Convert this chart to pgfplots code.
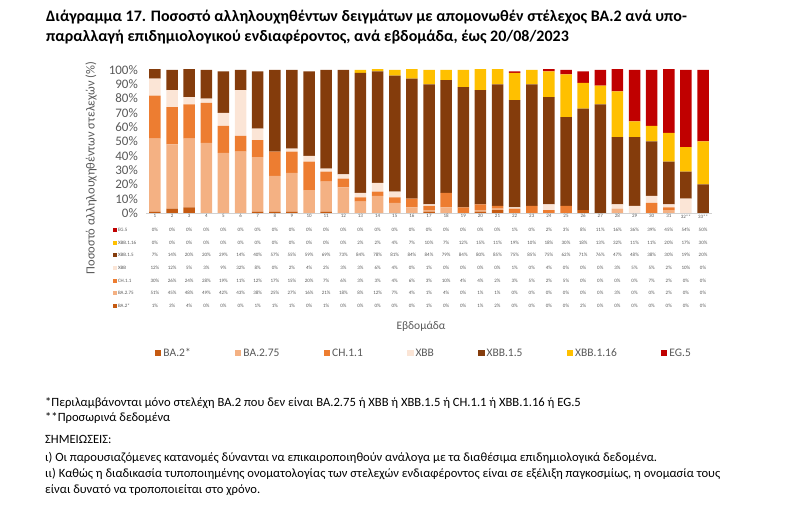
\documentclass[border=0pt]{standalone}
\usepackage{pgfplots}
\pgfplotsset{compat=1.18}
\usepackage{pgfplotstable}
\usepackage{fontspec}
\setmainfont{Carlito}
\definecolor{cBAt}{HTML}{C55A11}
\definecolor{cBAs}{HTML}{F4B183}
\definecolor{cCH}{HTML}{ED7D31}
\definecolor{cXBB}{HTML}{FBE5D6}
\definecolor{cXBBf}{HTML}{843C0C}
\definecolor{cXBBs}{HTML}{FFC000}
\definecolor{cEG}{HTML}{C00000}
\definecolor{tgray}{HTML}{595959}
\pgfplotstableread{
week ba2 ba275 ch11 xbb xbb15 xbb116 eg5
1 1 51 30 12 7 0 0
2 3 45 26 12 14 0 0
3 4 48 24 5 20 0 0
4 0 49 28 3 20 0 0
5 0 42 19 9 29 0 0
6 0 43 11 32 14 0 0
7 1 38 12 8 40 0 0
8 1 25 17 0 57 0 0
9 1 27 15 2 55 0 0
10 0 16 20 4 59 0 0
11 1 21 7 2 69 0 0
12 0 18 6 3 73 0 0
13 0 8 3 3 84 2 0
14 0 12 3 6 78 2 0
15 0 7 4 4 81 4 0
16 0 4 6 0 84 7 0
17 1 1 3 1 84 10 0
18 0 4 10 0 79 7 0
19 0 0 4 0 84 12 0
20 1 1 4 0 80 15 0
21 2 1 2 0 85 11 0
22 0 0 3 1 75 19 1
23 0 0 5 0 85 10 0
24 0 0 2 4 75 18 2
25 0 0 5 0 62 30 3
26 2 0 0 0 71 18 8
27 0 0 0 0 76 13 11
28 0 3 0 3 47 32 16
29 0 0 0 5 48 11 36
30 0 0 7 5 38 11 39
31 0 2 2 2 30 20 45
32 0 0 0 10 19 17 54
33 0 0 0 0 20 30 50
}\data
\begin{document}
\begin{tikzpicture}[x=1pt,y=1pt]
\path (0pt,0pt) rectangle (800pt,511pt);
% title
\node[anchor=base west, inner sep=0, font=\fontsize{16}{16}\selectfont\bfseries] at (46pt,489pt) {Διάγραμμα 17. Ποσοστό αλληλουχηθέντων δειγμάτων με απομονωθέν στέλεχος BA.2 ανά υπο-};
\node[anchor=base west, inner sep=0, font=\fontsize{16}{16}\selectfont\bfseries] at (46pt,469pt) {παραλλαγή επιδημιολογικού ενδιαφέροντος, ανά εβδομάδα, έως 20/08/2023};
% y label
\node[rotate=90, text=tgray, font=\fontsize{12.5}{12.5}\selectfont] at (91pt,343pt) {Ποσοστό αλληλουχηθέντων στελεχών (\%)};
\begin{axis}[at={(146.4pt,298pt)}, anchor=south west, scale only axis,
  width=565.2pt, height=143pt,
  ybar stacked, bar width=11.5pt,
  xmin=0.5, xmax=33.5, ymin=0, ymax=100,
  axis x line*=bottom, axis y line*=left,
  x axis line style={draw=black!18},
  y axis line style={draw=none},
  xtick={1,...,33},
  xticklabels={1,2,3,4,5,6,7,8,9,10,11,12,13,14,15,16,17,18,19,20,21,22,23,24,25,26,27,28,29,30,31,32**,33**},
  xtick style={draw=none}, ytick style={draw=none},
  ytick={0,10,...,100},
  yticklabel={\pgfmathprintnumber{\tick}\%},
  /pgf/number format/assume math mode=true,
  yticklabel style={font=\fontsize{13}{13}\selectfont, text=tgray, xshift=-5pt},
  xticklabel style={font=\fontsize{5}{5}\selectfont, text=tgray, yshift=2pt},
  legend columns=-1,
  legend style={at={(0.491,-0.98)}, anchor=center, draw=none, font=\fontsize{11.5}{11.5}\selectfont, text=tgray,
    /tikz/every even column/.append style={column sep=42pt}},
  legend image code/.code={\fill[#1] (0pt,-3.3pt) rectangle (6.6pt,3.3pt);},
  legend cell align=left,
]
\addplot[fill=cBAt, draw=none] table[x=week, y=ba2] {\data};
\addplot[fill=cBAs, draw=none] table[x=week, y=ba275] {\data};
\addplot[fill=cCH, draw=none] table[x=week, y=ch11] {\data};
\addplot[fill=cXBB, draw=none] table[x=week, y=xbb] {\data};
\addplot[fill=cXBBf, draw=none] table[x=week, y=xbb15] {\data};
\addplot[fill=cXBBs, draw=none] table[x=week, y=xbb116] {\data};
\addplot[fill=cEG, draw=none] table[x=week, y=eg5] {\data};
\legend{BA.2*, BA.2.75, CH.1.1, XBB, XBB.1.5, XBB.1.16, EG.5}
\end{axis}
% data table
\begin{axis}[at={(146.4pt,198.7pt)}, anchor=south west, scale only axis,
  width=565.2pt, height=88.67pt, hide axis,
  xmin=0.5, xmax=33.5, ymin=0, ymax=7, clip=false,
  point meta=explicit symbolic,
  nodes near coords={\pgfplotspointmeta\%},
  nodes near coords align={center},
  every node near coord/.append style={font=\fontsize{5}{5}\selectfont, text=tgray, inner sep=0pt},
]
\addplot[draw=none, mark=none] table[x=week, y expr=6.5, meta=eg5] {\data};
\addplot[draw=none, mark=none] table[x=week, y expr=5.5, meta=xbb116] {\data};
\addplot[draw=none, mark=none] table[x=week, y expr=4.5, meta=xbb15] {\data};
\addplot[draw=none, mark=none] table[x=week, y expr=3.5, meta=xbb] {\data};
\addplot[draw=none, mark=none] table[x=week, y expr=2.5, meta=ch11] {\data};
\addplot[draw=none, mark=none] table[x=week, y expr=1.5, meta=ba275] {\data};
\addplot[draw=none, mark=none] table[x=week, y expr=0.5, meta=ba2] {\data};
\end{axis}
% row labels
\foreach \c/\t [count=\k from 0] in {cEG/EG.5, cXBBs/XBB.1.16, cXBBf/XBB.1.5, cXBB/XBB, cCH/CH.1.1, cBAs/BA.2.75, cBAt/BA.2*}{
  \fill[\c] (112.5pt,281pt-12.67pt*\k-2.1pt) rectangle (116.7pt,281pt-12.67pt*\k+2.1pt);
  \node[anchor=west, inner sep=0, font=\fontsize{5}{5}\selectfont, text=tgray] at (117.8pt,281pt-12.67pt*\k) {\t};
}
% x title
\node[text=tgray, font=\fontsize{11.5}{11.5}\selectfont] at (421pt,185pt) {Εβδομάδα};
% footnotes
\begin{scope}[every node/.style={anchor=base west, inner sep=0, font=\fontsize{12.6}{12.6}\selectfont}]
\node at (45pt,104pt) {*Περιλαμβάνονται μόνο στελέχη BA.2 που δεν είναι BA.2.75 ή XBB ή XBB.1.5 ή CH.1.1 ή XBB.1.16 ή EG.5};
\node at (45pt,89pt) {**Προσωρινά δεδομένα};
\node at (45pt,67pt) {ΣΗΜΕΙΩΣΕΙΣ:};
\node at (45pt,49pt) {ι) Οι παρουσιαζόμενες κατανομές δύνανται να επικαιροποιηθούν ανάλογα με τα διαθέσιμα επιδημιολογικά δεδομένα.};
\node at (45pt,33pt) {ιι) Καθώς η διαδικασία τυποποιημένης ονοματολογίας των στελεχών ενδιαφέροντος είναι σε εξέλιξη παγκοσμίως, η ονομασία τους};
\node at (45pt,17pt) {είναι δυνατό να τροποποιείται στο χρόνο.};
\end{scope}
\end{tikzpicture}
\end{document}
